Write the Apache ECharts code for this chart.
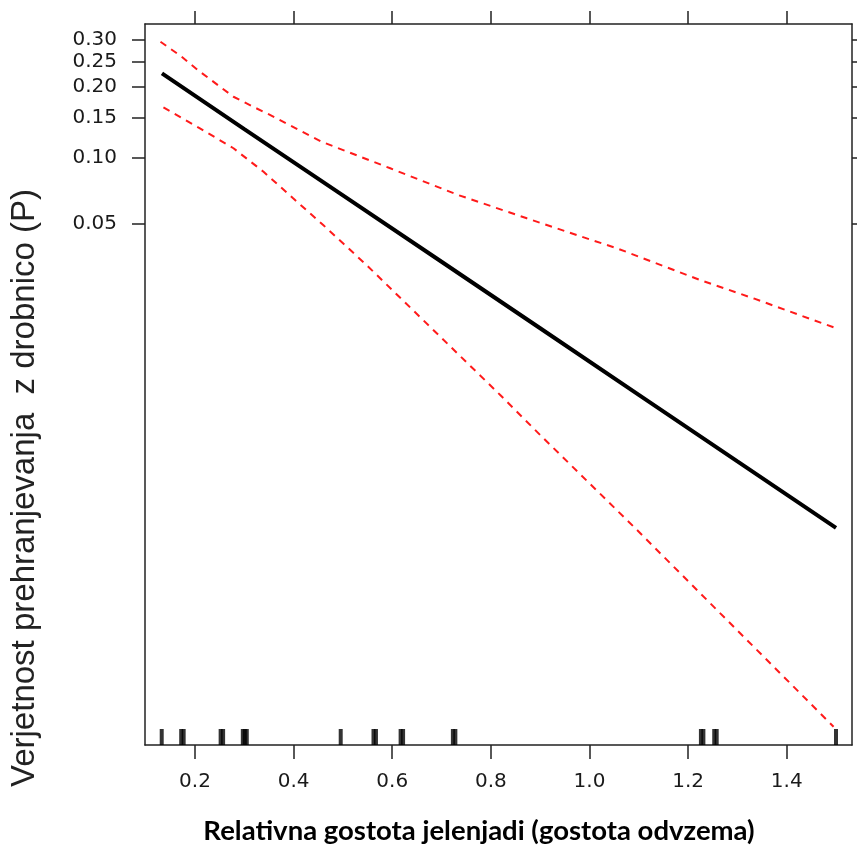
<!DOCTYPE html>
<html>
<head>
<meta charset="utf-8">
<script src="https://cdn.jsdelivr.net/npm/echarts@6/dist/echarts.min.js"></script>
<style>
  html, body { margin: 0; padding: 0; background: #fff; }
  #main { width: 857px; height: 849px; }
</style>
</head>
<body>
<div id="main"></div>
<script>
// fitted probability (black line)
const fitX = [0.133, 0.3, 0.5, 0.7, 0.9, 1.1, 1.3, 1.5];
const fitP = [0.2265, 0.134, 0.0676, 0.0328, 0.0156, 0.00734, 0.00344, 0.00161];

// confidence band, upper (red dashed)
const upperX = [0.13, 0.173, 0.207, 0.278, 0.318, 0.352, 0.457, 0.596, 0.734, 0.873, 0.974, 1.055, 1.224, 1.333, 1.5];
const upperP = [0.296, 0.2615, 0.232, 0.183, 0.1665, 0.154, 0.118, 0.0899, 0.0678, 0.0528, 0.044, 0.0381, 0.0268, 0.0218, 0.0156];

// confidence band, lower (red dashed)
const lowerX = [0.136, 0.21, 0.278, 0.339, 0.399, 0.46, 0.548, 0.819, 0.9, 1.089, 1.495];
const lowerP = [0.1656, 0.135, 0.1105, 0.0867, 0.0655, 0.0491, 0.0316, 0.00733, 0.00465, 0.00164, 0.000166];

// rug of observed densities
const rugX = [0.1325, 0.172, 0.177, 0.252, 0.257, 0.297, 0.301, 0.305, 0.4955,
  0.562, 0.567, 0.617, 0.622, 0.723, 0.728, 1.226, 1.231, 1.253, 1.258, 1.5];

const xTicks = [0.2, 0.4, 0.6, 0.8, 1.0, 1.2, 1.4];
const yTickP = [0.05, 0.10, 0.15, 0.20, 0.25, 0.30];

// y axis is on the logit scale
const logit = (p) => Math.log(p / (1 - p));
const invLogit = (v) => 1 / (1 + Math.exp(-v));

const xMin = 0.0986, xMax = 1.5324;
const yMin = -8.913, yMax = -0.664;
const yTicks = yTickP.map(logit);

const toPairs = (xs, ps) => xs.map((x, i) => [x, logit(ps[i])]);

const axisCol = '#222';
const labelFont = { fontFamily: 'DejaVu Sans', fontSize: 20, color: '#1a1a1a' };

const option = {
  animation: false,
  backgroundColor: '#fff',
  grid: { left: 145, top: 24, right: 5, bottom: 104, containLabel: false },
  xAxis: [{
    type: 'value',
    min: xMin,
    max: xMax,
    splitLine: { show: false },
    axisLine: { lineStyle: { color: axisCol, width: 1.5 } },
    axisTick: { customValues: xTicks, length: 14, lineStyle: { color: axisCol, width: 1.5 } },
    axisLabel: Object.assign({ customValues: xTicks, margin: 27, formatter: (v) => v.toFixed(1) }, labelFont),
  }, {
    type: 'value',
    position: 'top',
    min: xMin,
    max: xMax,
    splitLine: { show: false },
    axisLine: { lineStyle: { color: axisCol, width: 1.5 } },
    axisTick: { customValues: xTicks, length: 13, lineStyle: { color: axisCol, width: 1.5 } },
    axisLabel: { show: false },
  }],
  yAxis: [{
    type: 'value',
    min: yMin,
    max: yMax,
    splitLine: { show: false },
    axisLine: { show: true, lineStyle: { color: axisCol, width: 1.5 } },
    axisTick: { show: true, customValues: yTicks, length: 13, lineStyle: { color: axisCol, width: 1.5 } },
    axisLabel: Object.assign({ customValues: yTicks, margin: 28, formatter: (v) => invLogit(v).toFixed(2) }, labelFont),
  }, {
    type: 'value',
    position: 'right',
    min: yMin,
    max: yMax,
    splitLine: { show: false },
    axisLine: { show: true, lineStyle: { color: axisCol, width: 1.5 } },
    axisTick: { show: true, customValues: yTicks, length: 13, lineStyle: { color: axisCol, width: 1.5 } },
    axisLabel: { show: false },
  }],
  graphic: [{
    type: 'text',
    x: 479,
    y: 831,
    style: {
      text: 'Relativna gostota jelenjadi (gostota odvzema)',
      fontFamily: 'Lato',
      fontWeight: 'bold',
      fontSize: 27.5,
      fill: '#000',
      textAlign: 'center',
      textVerticalAlign: 'middle',
    },
  }, {
    type: 'text',
    x: 25,
    y: 488,
    rotation: Math.PI / 2,
    style: {
      text: 'Verjetnost prehranjevanja  z drobnico (P)',
      fontFamily: 'Liberation Sans',
      fontSize: 33,
      fill: '#222',
      textAlign: 'center',
      textVerticalAlign: 'middle',
    },
  }],
  series: [{
    name: 'upper',
    type: 'line',
    data: toPairs(upperX, upperP),
    symbol: 'none',
    lineStyle: { color: '#ff1a1a', width: 2, type: [7, 6] },
  }, {
    name: 'lower',
    type: 'line',
    data: toPairs(lowerX, lowerP),
    symbol: 'none',
    lineStyle: { color: '#ff1a1a', width: 2, type: [7, 6] },
  }, {
    name: 'fit',
    type: 'line',
    data: toPairs(fitX, fitP),
    symbol: 'none',
    lineStyle: { color: '#000', width: 4 },
  }, {
    name: 'rug',
    type: 'scatter',
    clip: false,
    data: rugX.map((x) => [x, yMin]),
    symbol: 'rect',
    symbolSize: [4, 16],
    symbolOffset: [0, -8],
    itemStyle: { color: '#000' },
  }],
};

const myechart = echarts.init(document.getElementById('main'));
myechart.setOption(option);
</script>
</body>
</html>
